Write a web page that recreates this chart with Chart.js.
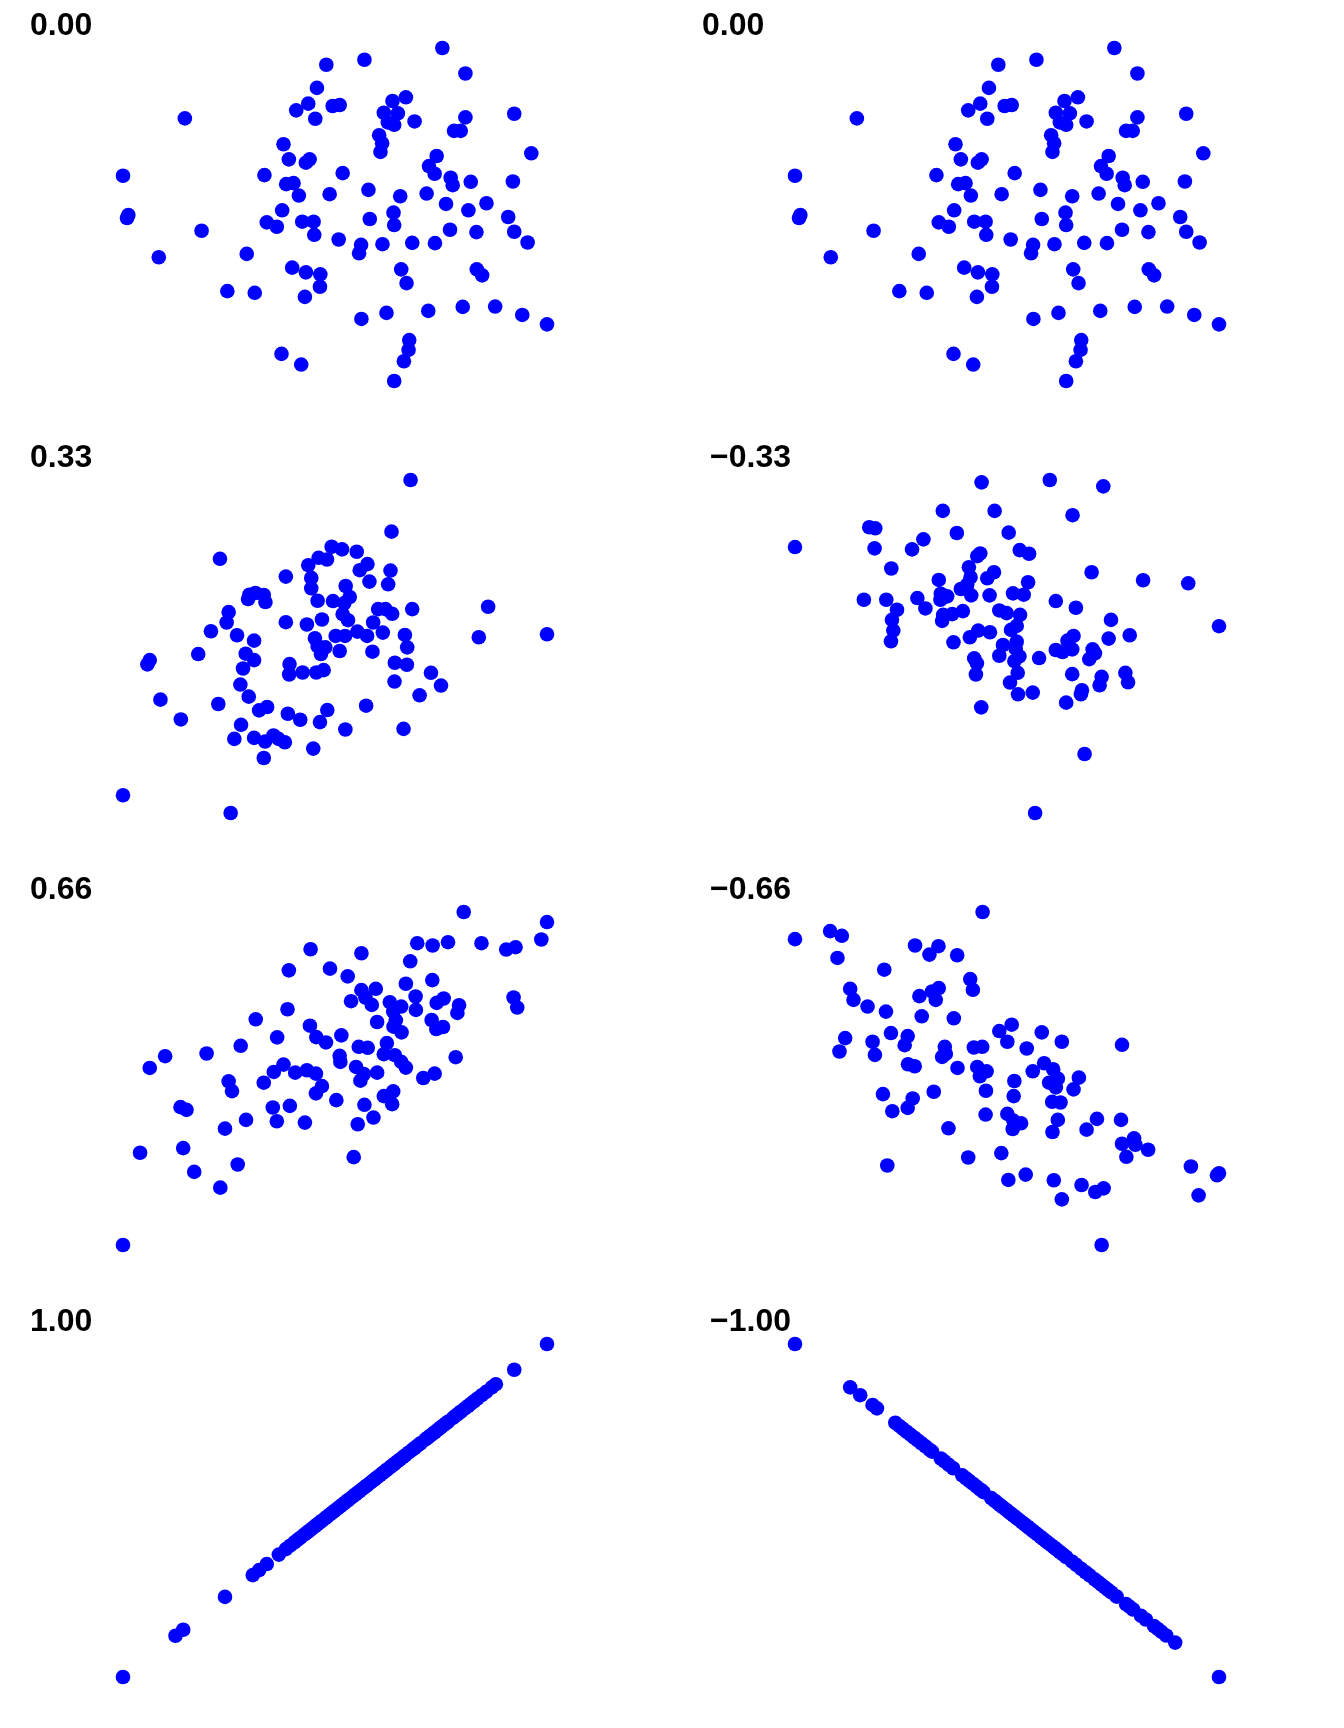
<!DOCTYPE html>
<html>
<head>
<meta charset="utf-8">
<script src="https://cdn.jsdelivr.net/npm/chart.js"></script>
<style>
    body { margin: 0; background: #fff; }
    #grid { position: relative; width: 1344px; height: 1728px; }
    .panel { position: absolute; width: 672px; height: 432px; }
    .panel canvas { position: absolute; left: 0; top: 0; }
    .label {
        position: absolute; top: 8px; left: 30px;
        font: bold 32px "Liberation Sans", Arial, sans-serif;
        line-height: 32px; color: #000; white-space: nowrap;
    }
</style>
</head>
<body>
<div id="grid"></div>
<script>
// panel titles (row by row, left then right)
const titles = ['0.00', '0.00', '0.33', '\u22120.33', '0.66', '\u22120.66', '1.00', '\u22121.00'];

// r = 0.00 (both top panels show the same sample)
const r000X = [995,762,648,1064,620,594,558,615,667,688,846,886,820,862,832,851,912,1064,1030,1050,
    1210,225,806,815,810,520,536,598,587,1261,978,955,972,40,463,697,528,550,566,658,
    774,869,948,1020,1026,1080,1206,1006,1127,1073,1192,1210,1250,56,52,516,470,500,576,610,
    612,685,778,849,851,275,1018,1097,752,746,816,905,973,147,410,546,587,630,629,584,
    352,434,872,888,1098,1114,753,828,953,1056,1153,1234,1308,896,894,880,851,514,573];
const r000Y = [1037,1002,987,961,918,871,851,826,864,867,879,890,844,842,815,808,818,830,790,790,
    841,827,777,753,727,750,705,705,695,723,715,685,662,656,658,664,631,634,597,601,
    614,595,603,650,628,638,639,572,574,553,533,489,457,539,530,553,517,504,519,519,
    480,466,527,546,509,492,495,488,450,425,452,456,455,413,423,382,368,362,325,295,
    312,307,377,336,377,359,229,247,253,265,266,241,213,166,137,103,44,125,93];

// r = 0.33
const r033X = [900,843,330,527,664,695,739,625,650,594,771,748,840,603,777,833,603,706,718,622,
    668,702,418,436,461,466,414,356,350,303,381,432,527,590,635,697,713,803,825,845,
    905,1132,788,817,676,704,741,770,883,890,1104,1308,614,622,645,632,688,786,265,407,
    432,399,120,113,538,537,577,618,640,853,889,961,991,852,927,391,416,152,325,213,
    447,471,533,570,651,629,767,705,879,393,373,432,465,490,505,524,609,461,40,362];
const r033Y = [1037,883,802,749,838,830,823,805,800,783,786,768,767,745,734,726,714,721,688,677,
    676,670,695,700,694,673,682,643,612,586,574,558,613,606,621,637,619,652,652,638,
    652,659,612,582,572,572,585,572,575,538,568,577,565,542,538,518,527,525,518,519,
    500,475,500,487,488,457,463,463,470,492,486,462,424,436,395,427,391,382,369,323,
    350,360,340,322,351,315,364,293,295,307,265,268,257,275,265,255,236,208,97,44];

// r = -0.33
const rm033X = [598,802,962,482,637,870,262,280,40,278,424,390,524,679,712,740,594,585,328,560,
    565,635,615,470,536,555,737,927,1081,1216,246,313,406,430,476,495,475,567,622,692,
    724,820,880,345,330,334,327,483,510,542,480,651,673,713,703,686,985,1308,588,623,
    563,514,662,703,700,873,855,978,1041,820,840,869,930,937,920,651,711,696,770,576,
    584,581,706,683,869,957,951,1028,1036,707,751,898,895,851,597,906,758];
const rm033Y = [1030,1037,1018,945,945,932,896,893,837,833,860,830,879,880,828,817,818,810,773,777,
    747,762,744,739,712,725,732,762,738,729,680,680,685,654,698,690,680,693,693,699,
    695,676,656,650,620,588,556,635,637,646,617,648,640,635,602,590,620,601,588,583,
    568,553,545,555,534,572,558,564,574,530,524,532,532,520,503,513,511,497,506,505,
    490,457,462,433,458,450,425,462,434,398,403,410,398,373,359,220,44];

// r = 0.66
const r066X = [1059,1308,1291,920,966,1012,1112,1186,1214,601,753,899,536,659,712,886,965,753,796,765,
    784,722,838,872,848,915,916,978,999,1045,1040,1208,1219,532,437,800,856,849,873,963,
    977,997,599,618,647,693,501,392,290,166,120,745,772,829,820,853,872,886,1035,688,
    690,737,760,750,800,938,972,520,491,555,590,617,461,356,366,635,617,678,848,820,
    845,762,212,230,488,539,500,584,408,345,789,742,91,220,253,383,331,730,40];
const r066Y = [1037,1007,955,944,937,947,944,925,932,926,914,890,863,868,845,823,834,804,808,782,
    760,771,768,755,740,785,745,766,779,759,736,782,752,747,717,709,714,695,678,715,
    688,694,698,664,648,669,663,638,615,607,572,635,632,646,613,610,590,573,604,608,
    590,575,554,534,558,542,555,582,560,558,565,555,528,532,503,518,496,476,502,488,
    464,462,455,447,454,459,413,409,417,391,424,404,319,333,262,284,215,306,44];

// r = -0.66
const rm066X = [601,40,145,180,167,399,469,442,525,307,564,572,205,215,257,312,412,450,470,461,
    419,515,327,377,368,190,173,272,279,488,491,480,651,688,675,778,838,733,1018,575,
    600,378,398,526,585,613,593,751,785,812,826,800,820,889,873,696,694,611,303,392,
    377,331,455,809,834,610,675,693,716,691,826,810,943,912,1015,1018,1054,1058,1096,1031,
    499,558,657,316,678,730,814,838,897,938,963,1224,1302,1308,1247,957];
const rm066Y = [1037,956,980,966,900,937,935,910,908,865,837,805,808,775,755,740,786,800,810,775,
    726,720,676,667,640,661,621,650,611,635,614,605,682,701,650,678,650,630,641,633,
    635,583,577,572,575,562,547,562,586,568,540,528,514,543,508,533,488,504,494,481,
    453,443,501,471,469,433,435,415,407,390,417,381,420,388,417,346,362,343,328,307,
    392,305,318,281,238,254,237,180,223,202,213,278,252,258,192,44];

// r = 1.00
const r100X = [40,197,220,345,428,447,470,506,527,540,553,562,571,582,590,597,606,615,621,628,
    636,645,651,659,666,673,682,690,697,703,712,718,727,735,741,748,757,764,770,779,
    787,793,800,809,816,822,830,839,846,853,861,868,877,884,895,905,912,921,930,944,
    951,958,966,973,982,990,998,1006,1012,1027,1035,1042,1051,1062,1072,1080,1090,1100,1113,1126,
    1143,1155,1210,1308];
const r100Y = [40,197,220,345,428,447,470,506,527,540,553,562,571,582,590,597,606,615,621,628,
    636,645,651,659,666,673,682,690,697,703,712,718,727,735,741,748,757,764,770,779,
    787,793,800,809,816,822,830,839,846,853,861,868,877,884,895,905,912,921,930,944,
    951,958,966,973,982,990,998,1006,1012,1027,1035,1042,1051,1062,1072,1080,1090,1100,1113,1126,
    1143,1155,1210,1308];

// r = -1.00
const rm100X = [40,205,235,272,285,340,352,363,374,386,396,407,418,430,442,450,476,487,500,513,
    540,551,561,572,583,594,604,627,636,645,653,661,670,679,687,694,703,710,719,727,
    735,742,751,759,766,775,783,791,799,807,815,823,832,841,851,868,881,896,909,921,
    936,946,956,966,976,986,1002,1030,1041,1051,1075,1089,1114,1125,1136,1150,1177,1308];
const rm100Y = [1308,1143,1113,1076,1063,1008,996,985,974,962,952,941,930,918,906,898,872,861,848,835,
    808,797,787,776,765,754,744,721,712,703,695,687,678,669,661,654,645,638,629,621,
    613,606,597,589,582,573,565,557,549,541,533,525,516,507,497,480,467,452,439,427,
    412,402,392,382,372,362,346,318,307,297,273,259,234,223,212,198,171,40];

const panels = [
    [r000X, r000Y], [r000X, r000Y],
    [r033X, r033Y], [rm033X, rm033Y],
    [r066X, r066Y], [rm066X, rm066Y],
    [r100X, r100Y], [rm100X, rm100Y]
];

const grid = document.getElementById('grid');

panels.forEach((p, i) => {
    const xs = p[0], ys = p[1];
    const panel = document.createElement('div');
    panel.className = 'panel';
    panel.style.left = (i % 2) * 672 + 'px';
    panel.style.top = Math.floor(i / 2) * 432 + 'px';

    const canvas = document.createElement('canvas');
    canvas.width = 672;
    canvas.height = 432;
    panel.appendChild(canvas);

    const label = document.createElement('div');
    label.className = 'label';
    label.textContent = titles[i];
    if (titles[i].startsWith('\u2212')) label.style.left = '38px';
    panel.appendChild(label);
    grid.appendChild(panel);

    new Chart(canvas.getContext('2d'), {
        type: 'scatter',
        data: {
            datasets: [{
                data: xs.map((v, k) => ({ x: v, y: ys[k] })),
                backgroundColor: '#0000ff',
                borderWidth: 0,
                pointRadius: 7.3,
                pointHoverRadius: 7.3,
                clip: false
            }]
        },
        options: {
            responsive: false,
            animation: false,
            events: [],
            layout: { padding: { left: 123, right: 125, top: 48, bottom: 51 } },
            plugins: { legend: { display: false }, tooltip: { enabled: false } },
            scales: {
                x: { display: false, min: Math.min(...xs), max: Math.max(...xs) },
                y: { display: false, min: Math.min(...ys), max: Math.max(...ys) }
            }
        }
    });
});
</script>
</body>
</html>
